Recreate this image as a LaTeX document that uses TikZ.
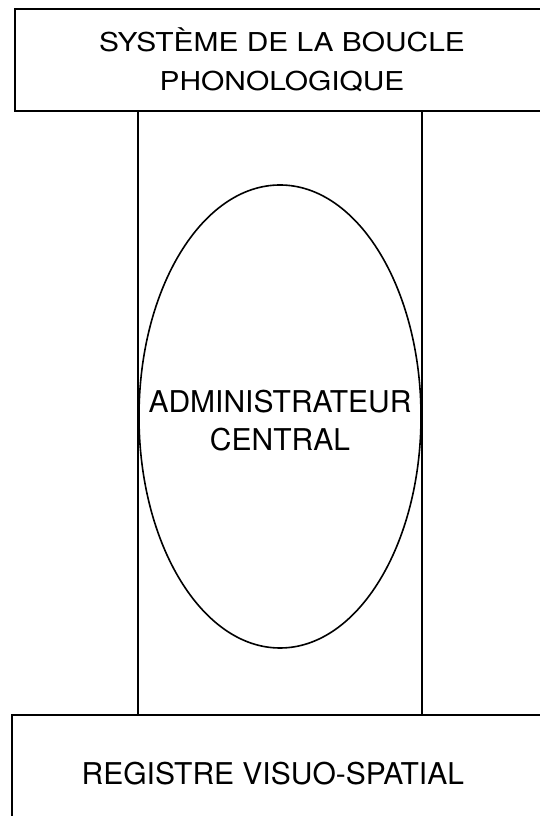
\documentclass[tikz,border=0pt]{standalone}
\usepackage{fontspec}
\setmainfont{TeX Gyre Heros}
\newfontfamily\widefont[FakeStretch=1.15]{TeX Gyre Heros}
\usepackage{tikz}
\usetikzlibrary{
  positioning,
  shapes.geometric,
  calc
}
\tikzset{
  box/.style={
    draw,
    line width=1.6pt,
    align=center,
    inner sep=0pt
  },
  store/.style={
    box,
    minimum width=534pt,
    minimum height=102pt,
    font=\widefont\fontsize{26}{39}\selectfont
  },
  register/.style={
    box,
    minimum width=530pt,
    minimum height=118pt,
    font=\fontsize{30}{38}\selectfont
  },
  executive/.style={
    ellipse,
    draw,
    line width=1.6pt,
    inner sep=0pt,
    minimum width=282pt,
    minimum height=463pt,
    font=\fontsize{30}{38}\selectfont
  },
  link/.style={
    line width=1.6pt
  }
}
\begin{document}
\begin{tikzpicture}[x=1pt,y=1pt]

  \clip (0,0) rectangle (540,816);

  \node[
    store
  ] (loop) at (282,756) {
    SYSTÈME DE LA BOUCLE\\
    PHONOLOGIQUE
  };

  \node[
    executive
  ] (admin) at (280,399.5) {
    \makebox[0pt]{\raisebox{-14pt}[0pt][0pt]{%
      \begin{tabular}{@{}c@{}}
        ADMINISTRATEUR\\
        CENTRAL
      \end{tabular}}}
  };

  \node[
    register
  ] (sketchpad) at (277,42) {
    REGISTRE VISUO-SPATIAL
  };

  % montants reliant les deux systemes esclaves
  \draw[link]
  (loop.south -| admin.west) --
  (sketchpad.north -| admin.west);

  \draw[link]
  (loop.south -| admin.east) --
  (sketchpad.north -| admin.east);

\end{tikzpicture}
\end{document}
